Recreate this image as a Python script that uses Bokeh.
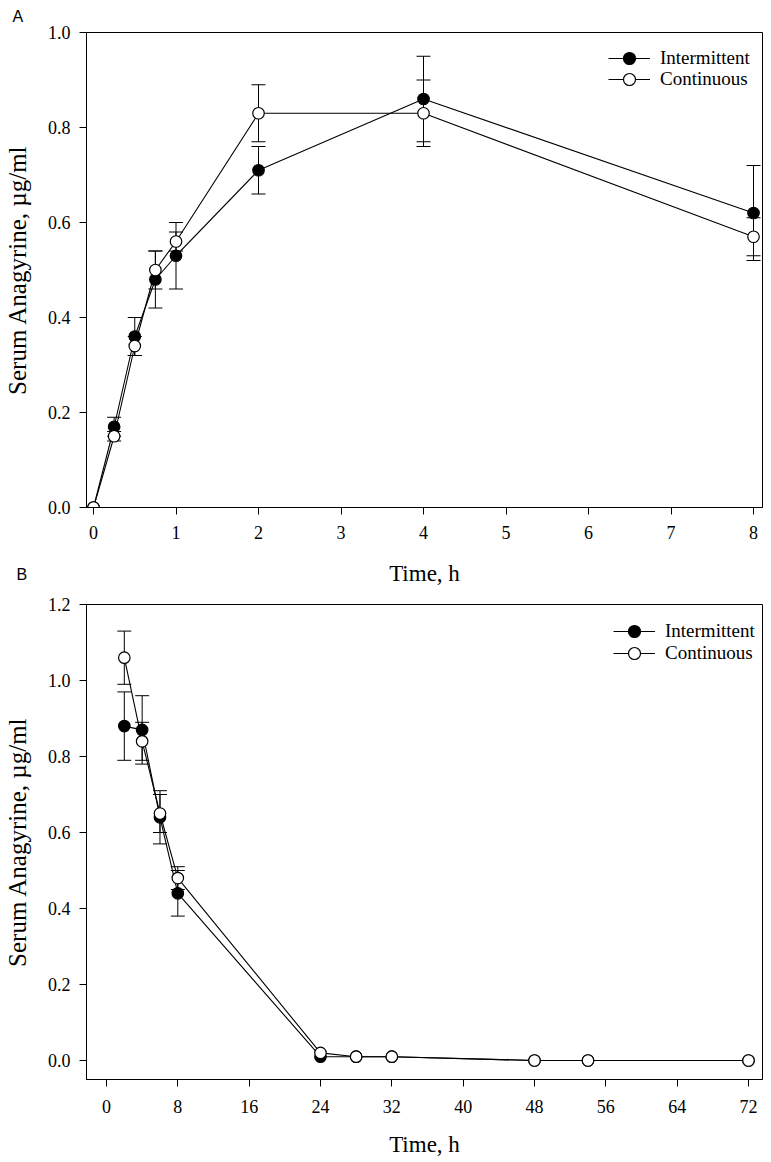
from bokeh.plotting import figure
from bokeh.models import (Range1d, FixedTicker, NumeralTickFormatter, Legend,
                          LegendItem, Title, ColumnDataSource)
from bokeh.layouts import column
from bokeh.embed import file_html
from bokeh.resources import INLINE

# ---------------- data ----------------
# Panel A (0-8 h)
time_a = [0, 0.25, 0.5, 0.75, 1, 2, 4, 8]
inter_a = [0.0, 0.17, 0.36, 0.48, 0.53, 0.71, 0.86, 0.62]
inter_a_err = [0.0, 0.02, 0.04, 0.06, 0.07, 0.05, 0.09, 0.10]
cont_a = [0.0, 0.15, 0.34, 0.50, 0.56, 0.83, 0.83, 0.57]
cont_a_err = [0.0, 0.01, 0.02, 0.04, 0.02, 0.06, 0.07, 0.04]
xticks_a = [0, 1, 2, 3, 4, 5, 6, 7, 8]
yticks_a = [0.0, 0.2, 0.4, 0.6, 0.8, 1.0]

# Panel B (0-72 h)
time_b = [2, 4, 6, 8, 24, 28, 32, 48, 54, 72]
inter_b = [0.88, 0.87, 0.64, 0.44, 0.01, 0.01, 0.01, 0.0, 0.0, 0.0]
inter_b_err = [0.09, 0.09, 0.07, 0.06, 0, 0, 0, 0, 0, 0]
cont_b = [1.06, 0.84, 0.65, 0.48, 0.02, 0.01, 0.01, 0.0, 0.0, 0.0]
cont_b_err = [0.07, 0.05, 0.05, 0.03, 0, 0, 0, 0, 0, 0]
xticks_b = [0, 8, 16, 24, 32, 40, 48, 56, 64, 72]
yticks_b = [0.0, 0.2, 0.4, 0.6, 0.8, 1.0, 1.2]

series_names = ["Intermittent", "Continuous"]
panel_letters = ["A", "B"]

SERIF = "Liberation Serif"
SANS = "Liberation Sans"


def style_axes(p, xticks, yticks, xlab_so, xtitle_so, ytitle_so):
    p.xaxis.ticker = FixedTicker(ticks=xticks)
    p.yaxis.ticker = FixedTicker(ticks=yticks)
    p.yaxis.formatter = NumeralTickFormatter(format="0.0")
    for ax in (p.xaxis[0], p.yaxis[0]):
        ax.axis_line_color = "black"
        ax.axis_line_width = 1
        ax.major_tick_line_color = "black"
        ax.major_tick_out = 7
        ax.major_tick_in = 0
        ax.minor_tick_line_color = None
        ax.major_label_text_font = SERIF
        ax.major_label_text_font_size = "18px"
        ax.major_label_text_color = "black"
        ax.axis_label_text_font = SERIF
        ax.axis_label_text_font_style = "normal"
        ax.axis_label_text_color = "black"
    p.xaxis.axis_label_text_font_size = "23px"
    p.yaxis.axis_label_text_font_size = "25px"
    p.xaxis.major_label_standoff = xlab_so
    p.xaxis.axis_label_standoff = xtitle_so
    p.yaxis.major_label_standoff = 9
    p.yaxis.axis_label_standoff = ytitle_so
    p.xaxis.axis_label = "Time, h"
    p.yaxis.axis_label = "Serum Anagyrine, \u00b5g/ml"
    p.xgrid.grid_line_color = None
    p.ygrid.grid_line_color = None
    p.outline_line_color = "black"
    p.outline_line_width = 1
    p.outline_line_alpha = 1


def draw_series(p, t, y, err):
    xs, lo, hi = [], [], []
    for ti, yi, ei in zip(t, y, err):
        if ei > 0:
            xs.append(ti)
            lo.append(yi - ei)
            hi.append(yi + ei)
    eb = ColumnDataSource(dict(x=xs, lo=lo, hi=hi))
    p.segment(x0="x", y0="lo", x1="x", y1="hi", source=eb,
              line_color="black", line_width=1)
    p.scatter(x="x", y="lo", source=eb, marker="dash", size=14,
              line_color="black", line_width=1)
    p.scatter(x="x", y="hi", source=eb, marker="dash", size=14,
              line_color="black", line_width=1)
    src = ColumnDataSource(dict(x=t, y=y))
    lr = p.line(x="x", y="y", source=src, line_color="black", line_width=1.1)
    return src, lr


def draw_markers(p, src, fill):
    return p.scatter(x="x", y="y", source=src, marker="circle", size=11.5,
                     fill_color=fill, line_color="black", line_width=1.2)


def add_legend_row(p, label, renderers, loc):
    leg = Legend(items=[LegendItem(label=label, renderers=renderers)],
                 location=loc, orientation="vertical",
                 glyph_width=42, glyph_height=30, label_height=30,
                 spacing=0, padding=0, margin=0, label_standoff=10,
                 label_text_font=SERIF, label_text_font_size="19px",
                 label_text_color="black",
                 background_fill_alpha=0, border_line_alpha=0)
    p.add_layout(leg, "center")


# ---------------- panel A ----------------
pa = figure(width=770, height=592, output_backend="svg", toolbar_location=None,
            x_range=Range1d(-0.085, 8.109), y_range=Range1d(0, 1.0),
            min_border_left=85, min_border_right=8, min_border_top=32,
            min_border_bottom=85, background_fill_color="white",
            border_fill_color="white")
style_axes(pa, xticks_a, yticks_a, 11, 19, 14)

pa.title.text = panel_letters[0]
pa.title.align = "left"
pa.title.offset = -74
pa.title.standoff = 11
pa.title.vertical_align = "top"
pa.title.text_font = SANS
pa.title.text_font_size = "16px"
pa.title.text_font_style = "normal"
pa.title.text_color = "black"

s_int_a, l_int_a = draw_series(pa, time_a, inter_a, inter_a_err)
s_cont_a, l_cont_a = draw_series(pa, time_a, cont_a, cont_a_err)
m_int_a = draw_markers(pa, s_int_a, "black")
m_cont_a = draw_markers(pa, s_cont_a, "white")
add_legend_row(pa, series_names[0], [l_int_a, m_int_a], (522, 434))
add_legend_row(pa, series_names[1], [l_cont_a, m_cont_a], (522, 413))

pa.add_layout(Title(text=panel_letters[1], align="left", offset=-70,
                    standoff=-46, vertical_align="top", text_font=SANS,
                    text_font_size="16px", text_font_style="normal",
                    text_color="black"), "below")

# ---------------- panel B ----------------
pb = figure(width=770, height=570, output_backend="svg", toolbar_location=None,
            x_range=Range1d(-2.24, 73.57), y_range=Range1d(-0.05, 1.2),
            min_border_left=85, min_border_right=8, min_border_top=12,
            min_border_bottom=83, background_fill_color="white",
            border_fill_color="white")
style_axes(pb, xticks_b, yticks_b, 13, 16, 14)

s_int_b, l_int_b = draw_series(pb, time_b, inter_b, inter_b_err)
s_cont_b, l_cont_b = draw_series(pb, time_b, cont_b, cont_b_err)
m_int_b = draw_markers(pb, s_int_b, "black")
m_cont_b = draw_markers(pb, s_cont_b, "white")
add_legend_row(pb, series_names[0], [l_int_b, m_int_b], (527, 433))
add_legend_row(pb, series_names[1], [l_cont_b, m_cont_b], (527, 411))

layout = column(pa, pb, spacing=0)
open("out.html", "w").write(file_html(layout, INLINE))
